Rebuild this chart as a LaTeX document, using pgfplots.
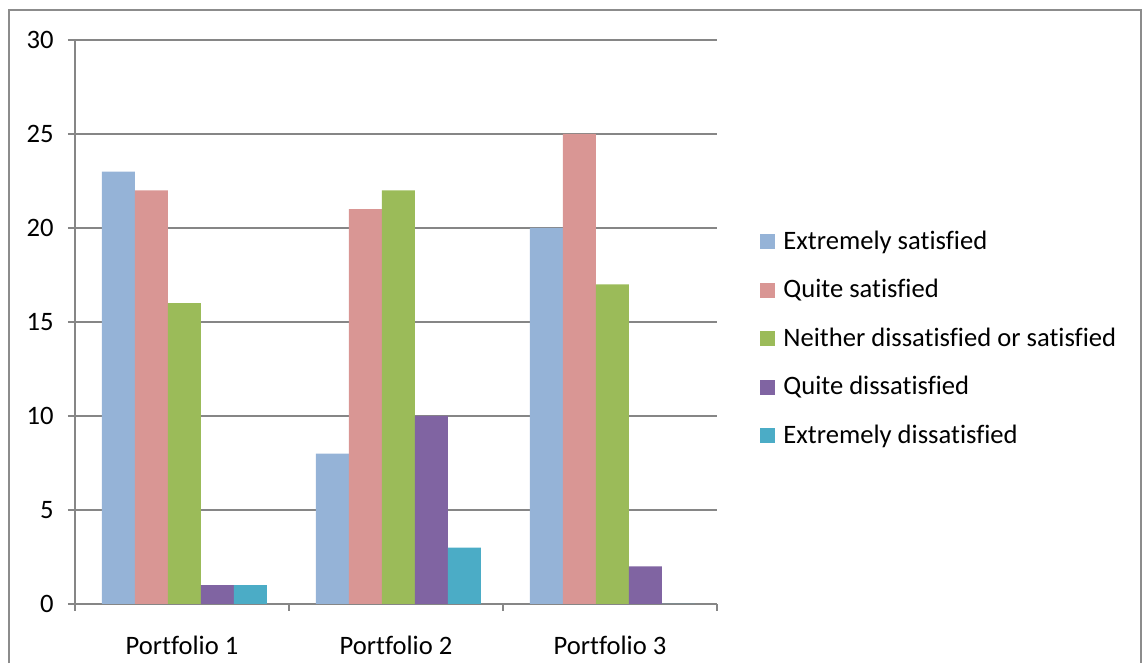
\documentclass[border=0pt]{standalone}
\usepackage{fontspec}
\setmainfont{Carlito}[Ligatures=NoCommon]
\usepackage{pgfplots}
\pgfplotsset{compat=1.18}
\definecolor{c1}{HTML}{95B3D7}
\definecolor{c2}{HTML}{D99694}
\definecolor{c3}{HTML}{9BBB59}
\definecolor{c4}{HTML}{8064A2}
\definecolor{c5}{HTML}{4BACC6}
\definecolor{gridgray}{HTML}{868686}
\definecolor{framegray}{HTML}{8C8C8C}
\begin{document}
\fontsize{13.3pt}{16pt}\selectfont
\begin{tikzpicture}
\useasboundingbox (0pt,0pt) rectangle (572pt,331.5pt);
\draw[framegray, line width=1pt] (4.25pt,0pt) -- (4.25pt,326.5pt) -- (570.25pt,326.5pt) -- (570.25pt,0pt);
\begin{axis}[
  at={(37.5pt,29.5pt)}, anchor=south west,
  scale only axis, width=321pt, height=282pt,
  ybar=0pt, bar width=16.5pt,
  every axis plot/.append style={xshift=1.2pt},
  legend image code/.code={\fill[#1] (0pt,0pt) rectangle (7.5pt,7.5pt);},
  xmin=-0.5, xmax=2.5, ymin=0, ymax=30,
  ytick={0,5,...,30},
  xtick={0,1,2},
  xticklabels={Portfolio 1,Portfolio 2,Portfolio 3},
  extra x ticks={-0.5,0.5,1.5,2.5},
  extra x tick labels={},
  extra x tick style={major tick length=3.5pt, tick align=outside, grid=none},
  x tick style={draw=none},
  extra x tick style={/pgfplots/x tick style={draw=gridgray, line width=0.75pt}},
  y tick style={draw=gridgray, line width=0.75pt},
  major tick length=3.5pt, tick align=outside,
  axis x line*=bottom, axis y line*=left,
  axis line style={draw=gridgray, line width=0.75pt},
  ymajorgrids, grid style={draw=gridgray, line width=0.75pt},
  /pgf/number format/assume math mode=true,
  yticklabel style={anchor=east, inner sep=0pt, xshift=-7pt},
  xticklabel style={anchor=base, inner sep=0pt, yshift=-21.5pt},
  legend style={at={(1.067,0.468)}, anchor=west, draw=none, fill=none,
    inner sep=0pt, column sep=4pt, row sep=12.25pt,
    nodes={inner sep=0pt, text height=9pt, text depth=3pt, anchor=base west}},
  legend cell align=left,
]
\addplot[fill=c1, draw=none] coordinates {(0,23) (1,8) (2,20)};
\addplot[fill=c2, draw=none] coordinates {(0,22) (1,21) (2,25)};
\addplot[fill=c3, draw=none] coordinates {(0,16) (1,22) (2,17)};
\addplot[fill=c4, draw=none] coordinates {(0,1) (1,10) (2,2)};
\addplot[fill=c5, draw=none] coordinates {(0,1) (1,3) (2,0)};
\legend{Extremely satisfied,Quite satisfied,Neither dissatisfied or satisfied,Quite dissatisfied,Extremely dissatisfied}
\end{axis}
\end{tikzpicture}
\end{document}
